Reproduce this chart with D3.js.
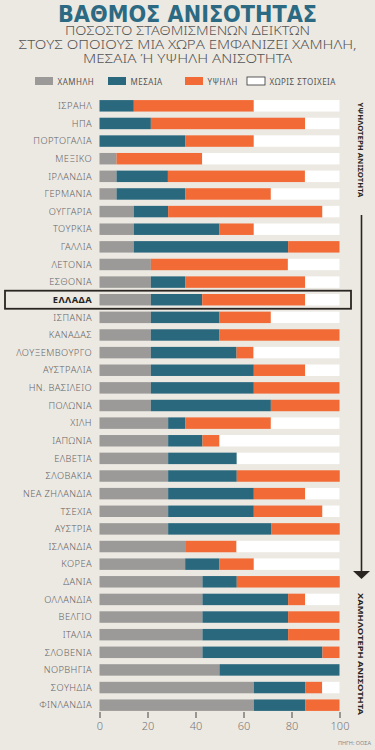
<!DOCTYPE html>
<html>
<head>
<meta charset="utf-8">
<script src="https://cdn.jsdelivr.net/npm/d3@7"></script>
<style>
  body { margin: 0; background: #ece9e3; }
  svg { display: block; font-family: "Noto Sans", "Open Sans", sans-serif; }
</style>
</head>
<body>
<script>
// share of weighted indicators (14 in total) in each inequality level, percent
var countries = ['ΙΣΡΑΗΛ', 'ΗΠΑ', 'ΠΟΡΤΟΓΑΛΙΑ', 'ΜΕΞΙΚΟ', 'ΙΡΛΑΝΔΙΑ', 'ΓΕΡΜΑΝΙΑ', 'ΟΥΓΓΑΡΙΑ', 'ΤΟΥΡΚΙΑ',
  'ΓΑΛΛΙΑ', 'ΛΕΤΟΝΙΑ', 'ΕΣΘΟΝΙΑ', 'ΕΛΛΑΔΑ', 'ΙΣΠΑΝΙΑ', 'ΚΑΝΑΔΑΣ', 'ΛΟΥΞΕΜΒΟΥΡΓΟ', 'ΑΥΣΤΡΑΛΙΑ',
  'ΗΝ. ΒΑΣΙΛΕΙΟ', 'ΠΟΛΩΝΙΑ', 'ΧΙΛΗ', 'ΙΑΠΩΝΙΑ', 'ΕΛΒΕΤΙΑ', 'ΣΛΟΒΑΚΙΑ', 'ΝΕΑ ΖΗΛΑΝΔΙΑ', 'ΤΣΕΧΙΑ',
  'ΑΥΣΤΡΙΑ', 'ΙΣΛΑΝΔΙΑ', 'ΚΟΡΕΑ', 'ΔΑΝΙΑ', 'ΟΛΛΑΝΔΙΑ', 'ΒΕΛΓΙΟ', 'ΙΤΑΛΙΑ', 'ΣΛΟΒΕΝΙΑ',
  'ΝΟΡΒΗΓΙΑ', 'ΣΟΥΗΔΙΑ', 'ΦΙΝΛΑΝΔΙΑ'];

var low = [0, 0, 0, 7.1, 7.1, 7.1, 14.3, 14.3,
  14.3, 21.4, 21.4, 21.4, 21.4, 21.4, 21.4, 21.4,
  21.4, 21.4, 28.6, 28.6, 28.6, 28.6, 28.6, 28.6,
  28.6, 35.7, 35.7, 42.9, 42.9, 42.9, 42.9, 42.9,
  50, 64.3, 64.3];

var medium = [14.3, 21.4, 35.7, 0, 21.4, 28.6, 14.3, 35.7,
  64.3, 0, 14.3, 21.4, 28.6, 28.6, 35.7, 42.9,
  42.9, 50, 7.1, 14.3, 28.6, 28.6, 35.7, 35.7,
  42.9, 0, 14.3, 14.3, 35.7, 35.7, 35.7, 50,
  50, 21.4, 21.4];

var high = [50, 64.3, 28.6, 35.7, 57.1, 35.7, 64.3, 14.3,
  21.4, 57.1, 50, 42.9, 21.4, 50, 7.1, 21.4,
  35.7, 28.6, 35.7, 7.1, 0, 42.9, 21.4, 28.6,
  28.6, 21.4, 14.3, 42.9, 7.1, 21.4, 21.4, 7.1,
  0, 7.1, 14.3];

var xTicks = [0, 20, 40, 60, 80, 100];
var levelNames = ['ΧΑΜΗΛΗ', 'ΜΕΣΑΙΑ', 'ΥΨΗΛΗ', 'ΧΩΡΙΣ ΣΤΟΙΧΕΙΑ'];
var highlight = 'ΕΛΛΑΔΑ';

var colors = ['#9b9a98', '#2a687e', '#f26a35', '#ffffff'];

var W = 375, H = 750;

var rows = countries.map(function (c, i) {
  var none = Math.max(0, 100 - low[i] - medium[i] - high[i]);
  return { country: c, low: low[i], medium: medium[i], high: high[i], none: none };
});

var keys = ['low', 'medium', 'high', 'none'];
var series = d3.stack().keys(keys)(rows);

var x = d3.scaleLinear().domain([0, 100]).range([99.5, 339.5]);
var y = d3.scaleBand()
    .domain(countries)
    .range([97, 714])
    .paddingInner(0.35)
    .paddingOuter(0.175);

var svg = d3.select('body').append('svg')
    .attr('width', W)
    .attr('height', H);

svg.append('rect').attr('width', W).attr('height', H).attr('fill', '#ece9e3');

// title
svg.append('text')
    .attr('x', W / 2)
    .attr('y', 22)
    .attr('text-anchor', 'middle')
    .attr('font-family', 'DejaVu Sans, sans-serif')
    .attr('font-weight', 'bold')
    .attr('font-size', 22.5)
    .attr('textLength', 259)
    .attr('lengthAdjust', 'spacingAndGlyphs')
    .attr('fill', '#2b6a82')
    .text('ΒΑΘΜΟΣ ΑΝΙΣΟΤΗΤΑΣ');

var subLines = [
  { t: 'ΠΟΣΟΣΤΟ ΣΤΑΘΜΙΣΜΕΝΩΝ ΔΕΙΚΤΩΝ', y: 35.2, w: 245 },
  { t: 'ΣΤΟΥΣ ΟΠΟΙΟΥΣ ΜΙΑ ΧΩΡΑ ΕΜΦΑΝΙΖΕΙ ΧΑΜΗΛΗ,', y: 49, w: 338 },
  { t: 'ΜΕΣΑΙΑ Ή ΥΨΗΛΗ ΑΝΙΣΟΤΗΤΑ', y: 62.5, w: 209 }
];
svg.selectAll('.sub')
  .data(subLines)
  .enter()
  .append('text')
    .attr('class', 'sub')
    .attr('x', W / 2)
    .attr('y', function (d) { return d.y; })
    .attr('text-anchor', 'middle')
    .attr('font-size', 11.8)
    .attr('font-weight', 300)
    .attr('textLength', function (d) { return d.w; })
    .attr('lengthAdjust', 'spacingAndGlyphs')
    .attr('fill', '#555')
    .text(function (d) { return d.t; });

// legend
var legendX = [35, 108, 185, 247];
var legend = svg.selectAll('.leg')
  .data(levelNames)
  .enter()
  .append('g')
    .attr('class', 'leg')
    .attr('transform', function (d, i) { return 'translate(' + legendX[i] + ',77)'; });

legend.append('rect')
    .attr('width', 18)
    .attr('height', 8)
    .attr('fill', function (d, i) { return colors[i]; })
    .attr('stroke', function (d, i) { return i === 3 ? '#333' : 'none'; })
    .attr('stroke-width', 0.8);

legend.append('text')
    .attr('x', 22.5)
    .attr('y', 7.6)
    .attr('font-size', 8)
    .attr('letter-spacing', 0.5)
    .attr('fill', '#555')
    .text(function (d) { return d; });

// bars
svg.append('g')
  .selectAll('g')
  .data(series)
  .enter()
  .append('g')
    .attr('fill', function (d, i) { return colors[i]; })
  .selectAll('rect')
  .data(function (d) { return d; })
  .enter()
  .append('rect')
    .attr('x', function (d) { return x(d[0]); })
    .attr('y', function (d) { return y(d.data.country); })
    .attr('width', function (d) { return x(d[1]) - x(d[0]); })
    .attr('height', y.bandwidth());

// country labels
svg.append('g')
  .selectAll('text')
  .data(countries)
  .enter()
  .append('text')
    .attr('x', 92)
    .attr('y', function (d) { return y(d) + y.bandwidth() / 2; })
    .attr('dy', '0.35em')
    .attr('text-anchor', 'end')
    .attr('font-size', 9.3)
    .attr('font-weight', function (d) { return d === highlight ? 'bold' : 300; })
    .attr('letter-spacing', 0.4)
    .attr('fill', function (d) { return d === highlight ? '#222' : '#666'; })
    .text(function (d) { return d; });

// highlight box for Greece
svg.append('rect')
    .attr('x', 5)
    .attr('y', y(highlight) - 3.3)
    .attr('width', 346)
    .attr('height', y.bandwidth() + 6.6)
    .attr('fill', 'none')
    .attr('stroke', '#2a2521')
    .attr('stroke-width', 1.8);

// x axis
var xAxis = d3.axisBottom(x).tickValues(xTicks).tickSize(6).tickPadding(4);
var gx = svg.append('g')
    .attr('transform', 'translate(0,712)')
    .call(xAxis);
gx.select('.domain').remove();
gx.selectAll('line').attr('stroke', '#444');
gx.selectAll('text')
    .attr('font-family', '"Noto Sans", sans-serif')
    .attr('font-size', 11)
    .attr('font-weight', 300)
    .attr('fill', '#777');

// right hand arrow
svg.append('text')
    .attr('transform', 'translate(358,150) rotate(90)')
    .attr('text-anchor', 'middle')
    .attr('font-size', 7.5)
    .attr('font-weight', 'bold')
    .attr('textLength', 95)
    .attr('lengthAdjust', 'spacingAndGlyphs')
    .attr('fill', '#2a2521')
    .text('ΥΨΗΛΟΤΕΡΗ ΑΝΙΣΟΤΗΤΑ');

svg.append('line')
    .attr('x1', 361.5).attr('x2', 361.5)
    .attr('y1', 215).attr('y2', 574)
    .attr('stroke', '#2a2521')
    .attr('stroke-width', 1.6);

svg.append('path')
    .attr('d', 'M353,571 L370,571 L361.5,579 Z')
    .attr('fill', '#2a2521');

svg.append('text')
    .attr('transform', 'translate(358,654) rotate(90)')
    .attr('text-anchor', 'middle')
    .attr('font-size', 7.5)
    .attr('font-weight', 'bold')
    .attr('textLength', 122)
    .attr('lengthAdjust', 'spacingAndGlyphs')
    .attr('fill', '#2a2521')
    .text('ΧΑΜΗΛΟΤΕΡΗ ΑΝΙΣΟΤΗΤΑ');

// source
svg.append('text')
    .attr('x', 371)
    .attr('y', 745)
    .attr('text-anchor', 'end')
    .attr('font-size', 5.5)
    .attr('fill', '#888')
    .text('ΠΗΓΗ: ΟΟΣΑ');
</script>
</body>
</html>
